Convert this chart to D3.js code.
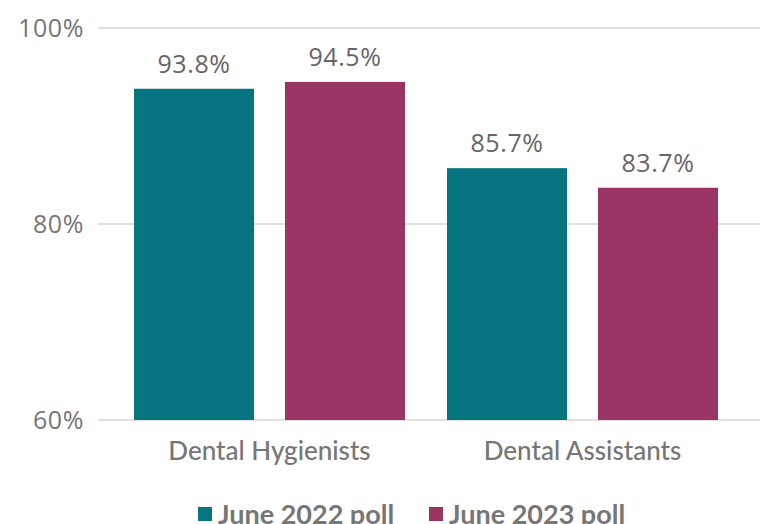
<!DOCTYPE html>
<html>
<head>
<meta charset="utf-8">
<script src="https://cdn.jsdelivr.net/npm/d3@7"></script>
<style>
  html, body { margin: 0; padding: 0; background: #fff; }
  svg { display: block; }
</style>
</head>
<body>
<svg id="chart"></svg>
<script>
// Chart data
const categories = ['Dental Hygienists', 'Dental Assistants'];
const seriesNames = ['June 2022 poll', 'June 2023 poll'];
const poll2022 = [93.8, 85.7];
const poll2023 = [94.5, 83.7];
const yTicks = [60, 80, 100];
const colors = ['#06757f', '#9a3462'];

const width = 768, height = 524;
const svg = d3.select('#chart').attr('width', width).attr('height', height);

const rows = categories.map((c, i) => ({ cat: c, values: [poll2022[i], poll2023[i]] }));

// Scales
const y = d3.scaleLinear().domain([60, 100]).range([420, 28]);

const x0 = d3.scaleBand()
    .domain(categories)
    .range([113, 739])
    .paddingInner(0.1342)
    .paddingOuter(0.0671);

const x1 = d3.scaleBand()
    .domain(seriesNames)
    .range([0, x0.bandwidth()])
    .paddingInner(0.205);

// Gridlines and tick labels
const grid = svg.append('g');
grid.selectAll('line')
    .data(yTicks)
    .join('line')
    .attr('x1', 98)
    .attr('x2', 760)
    .attr('y1', d => y(d))
    .attr('y2', d => y(d))
    .attr('stroke', '#d9d9d9')
    .attr('stroke-width', 1.5);

grid.selectAll('text')
    .data(yTicks)
    .join('text')
    .attr('x', 84)
    .attr('y', d => y(d))
    .attr('dy', '0.35em')
    .attr('text-anchor', 'end')
    .attr('font-family', 'Open Sans, sans-serif')
    .attr('font-size', '25px')
    .attr('letter-spacing', '0.6px')
    .attr('fill', '#767676')
    .text(d => d + '%');

// Bars
const groups = svg.selectAll('.group')
    .data(rows)
    .join('g')
    .attr('class', 'group')
    .attr('transform', d => `translate(${x0(d.cat)},0)`);

groups.selectAll('rect')
    .data(d => d.values.map((v, i) => ({ key: seriesNames[i], v, i })))
    .join('rect')
    .attr('x', d => x1(d.key))
    .attr('y', d => y(d.v))
    .attr('width', x1.bandwidth())
    .attr('height', d => y(60) - y(d.v))
    .attr('fill', d => colors[d.i]);

// Value labels
groups.selectAll('.val')
    .data(d => d.values.map((v, i) => ({ key: seriesNames[i], v, i })))
    .join('text')
    .attr('class', 'val')
    .attr('x', d => x1(d.key) + x1.bandwidth() / 2)
    .attr('y', d => y(d.v) - 16)
    .attr('text-anchor', 'middle')
    .attr('font-family', 'Open Sans, sans-serif')
    .attr('font-size', '25px')
    .attr('letter-spacing', '0.6px')
    .attr('fill', '#666666')
    .text(d => d.v.toFixed(1) + '%');

// Category labels
svg.selectAll('.cat')
    .data(categories)
    .join('text')
    .attr('class', 'cat')
    .attr('x', d => x0(d) + x0.bandwidth() / 2)
    .attr('y', 460)
    .attr('text-anchor', 'middle')
    .attr('font-family', 'Lato, sans-serif')
    .attr('font-size', '26px')
    .attr('font-weight', '500')
    .attr('fill', '#767676')
    .text(d => d);

// Legend
const legendX = [198, 429];
const legend = svg.selectAll('.legend-item')
    .data(seriesNames)
    .join('g')
    .attr('class', 'legend-item')
    .attr('transform', (d, i) => `translate(${legendX[i]},507)`);

legend.append('rect')
    .attr('width', 14)
    .attr('height', 14)
    .attr('fill', (d, i) => colors[i]);

legend.append('text')
    .attr('x', 20)
    .attr('y', 17)
    .attr('font-family', 'Lato, sans-serif')
    .attr('font-size', '27px')
    .attr('font-weight', '700')
    .attr('fill', '#767676')
    .text(d => d);
</script>
</body>
</html>
